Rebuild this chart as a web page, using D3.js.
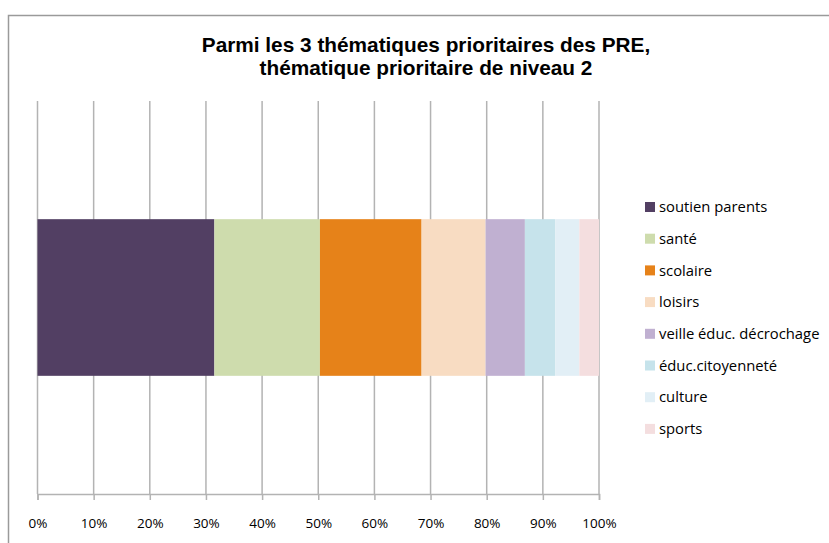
<!DOCTYPE html>
<html>
<head>
<meta charset="utf-8">
<script src="https://cdn.jsdelivr.net/npm/d3@7"></script>
<style>
  body { margin: 0; background: #fff; }
  svg { display: block; }
</style>
</head>
<body>
<div id="chart"></div>
<script>
// categories and their share (%)
const categories = ["soutien parents", "santé", "scolaire", "loisirs",
  "veille éduc. décrochage", "éduc.citoyenneté", "culture", "sports"];
const values = [31.5, 18.8, 18.1, 11.4, 7.0, 5.4, 4.3, 3.5];
const colors = ["#523f63", "#cedcad", "#e68219", "#f8dcc2",
  "#c0b0d1", "#c6e3eb", "#e2eff6", "#f4dedf"];
const tickValues = [0, 10, 20, 30, 40, 50, 60, 70, 80, 90, 100];
const titleLines = ["Parmi les 3 thématiques prioritaires des PRE,",
  "thématique prioritaire de niveau 2"];

const width = 829, height = 543;
const plot = { left: 37.5, right: 599, top: 101, bottom: 494 };

const svg = d3.select("#chart").append("svg")
  .attr("width", width)
  .attr("height", height);

// outer frame
svg.append("path")
  .attr("d", `M8.5,${height} V15.5 H${width}`)
  .attr("fill", "none")
  .attr("stroke", "#9a9a9a")
  .attr("stroke-width", 1.5);

// title
svg.append("g").selectAll("text")
  .data(titleLines)
  .join("text")
  .attr("x", 426)
  .attr("y", (d, i) => 52 + i * 23)
  .attr("text-anchor", "middle")
  .attr("font-family", "Liberation Sans, Arial, sans-serif")
  .attr("font-weight", "bold")
  .attr("font-size", 20.8)
  .attr("fill", "#000")
  .text(d => d);

const x = d3.scaleLinear().domain([0, 100]).range([plot.left, plot.right]);
const y = d3.scaleBand().domain(["niveau 2"]).range([plot.top, plot.bottom]).padding(0.43);

// vertical gridlines
svg.append("g").selectAll("line")
  .data(tickValues)
  .join("line")
  .attr("x1", d => x(d)).attr("x2", d => x(d))
  .attr("y1", plot.top).attr("y2", plot.bottom)
  .attr("stroke", "#b3b3b3")
  .attr("stroke-width", 1.5);

// stacked segments
let cum = 0;
const stacked = values.map((v, i) => {
  const s = { name: categories[i], x0: cum, x1: cum + v, color: colors[i] };
  cum += v;
  return s;
});

svg.append("g").selectAll("rect")
  .data(stacked)
  .join("rect")
  .attr("x", d => x(d.x0))
  .attr("width", d => x(d.x1) - x(d.x0))
  .attr("y", y("niveau 2"))
  .attr("height", y.bandwidth())
  .attr("fill", d => d.color);

// x axis
const axis = svg.append("g")
  .attr("transform", `translate(0,${plot.bottom})`)
  .call(d3.axisBottom(x).tickValues(tickValues).tickSize(6).tickPadding(18)
    .tickFormat(d => d + "%"));
axis.select(".domain").attr("stroke", "#b3b3b3").attr("stroke-width", 1.5);
axis.selectAll(".tick line").attr("stroke", "#b3b3b3").attr("stroke-width", 1.5);
axis.selectAll(".tick text")
  .attr("font-family", "Open Sans, sans-serif")
  .attr("font-size", 13.5)
  .attr("fill", "#000");

// legend
const legend = svg.append("g").selectAll("g")
  .data(stacked)
  .join("g")
  .attr("transform", (d, i) => `translate(645,${207 + i * 31.7})`);

legend.append("rect")
  .attr("x", 0).attr("y", -5)
  .attr("width", 10).attr("height", 10)
  .attr("fill", d => d.color);

legend.append("text")
  .attr("x", 14)
  .attr("dy", "0.35em")
  .attr("font-family", "Open Sans, sans-serif")
  .attr("font-size", 14.8)
  .attr("fill", "#000")
  .text(d => d.name);
</script>
</body>
</html>
